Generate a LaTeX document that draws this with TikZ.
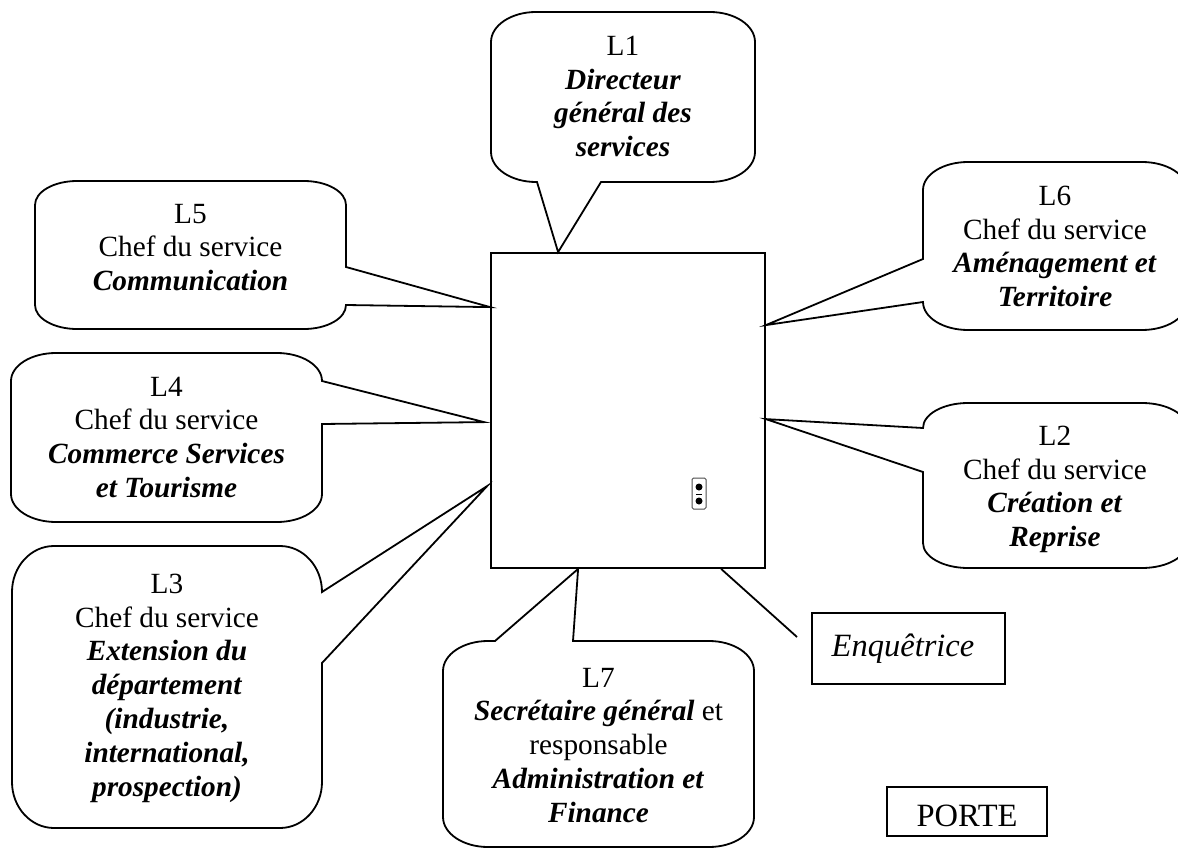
\documentclass[tikz,border=0pt]{standalone}
\usepackage{fontspec}
\setmainfont{Liberation Serif}
\newcommand{\bi}[1]{\textbf{\textit{#1}}}
\begin{document}
\begin{tikzpicture}[x=1pt,y=-1pt,line width=1.8pt,
	bulle/.style={draw,line width=1.8pt},
	texte/.style={align=center,anchor=north,inner sep=0pt,font=\fontsize{29.3}{33.8}\selectfont},
	boite/.style={draw,line width=1.8pt,inner sep=0pt,font=\fontsize{32.5}{37}\selectfont}]
	\useasboundingbox (0,0) rectangle (1178,848);
	\clip (0,0) rectangle (1178,848);
	% bureau
	\node[draw,inner sep=0pt,minimum width=274pt,minimum height=315pt] (bureau) at (628,410.5) {};
	\coordinate (t1) at ([xshift=68pt]bureau.north west);
	\coordinate (t5) at ([yshift=-55pt]bureau.north west);
	\coordinate (t4) at ([xshift=-6pt,yshift=-170pt]bureau.north west);
	\coordinate (t3) at ([xshift=-3pt,yshift=-234pt]bureau.north west);
	\coordinate (t6) at ([yshift=-73pt]bureau.north east);
	\coordinate (t2) at ([yshift=-167pt]bureau.north east);
	\coordinate (t7) at ([xshift=88pt]bureau.south west);
	% bulles
	\draw[bulle,x radius=45,y radius=30] (536,12) -- (710,12) arc[start angle=270,end angle=360] -- (755,152) arc[start angle=0,end angle=90] -- (601,182) -- (t1) -- (537,182) -- (536,182) arc[start angle=90,end angle=180] -- (491,42) arc[start angle=180,end angle=270] -- cycle;
	\draw[bulle,x radius=42,y radius=24] (77,181) -- (304,181) arc[start angle=270,end angle=360] -- (346,267) -- (t5) -- (346,305) arc[start angle=0,end angle=90] -- (77,329) arc[start angle=90,end angle=180] -- (35,205) arc[start angle=180,end angle=270] -- cycle;
	\draw[bulle,x radius=45,y radius=28] (56,353) -- (277,353) arc[start angle=270,end angle=360] -- (t4) -- (322,424) -- (322,494) arc[start angle=0,end angle=90] -- (56,522) arc[start angle=90,end angle=180] -- (11,381) arc[start angle=180,end angle=270] -- cycle;
	\draw[bulle,x radius=42,y radius=46] (54,546) -- (280,546) arc[start angle=270,end angle=360] -- (t3) -- (322,663) -- (322,782) arc[start angle=0,end angle=90] -- (54,828) arc[start angle=90,end angle=180] -- (12,592) arc[start angle=180,end angle=270] -- cycle;
	\draw[bulle,x radius=45,y radius=30] (488,641) -- (495,641) -- (t7) -- (573,641) -- (709,641) arc[start angle=270,end angle=360] -- (754,817) arc[start angle=0,end angle=90] -- (488,847) arc[start angle=90,end angle=180] -- (443,671) arc[start angle=180,end angle=270] -- cycle;
	\draw[bulle,x radius=45,y radius=28] (968,162) -- (1142,162) arc[start angle=270,end angle=360] -- (1187,302) arc[start angle=0,end angle=90] -- (968,330) arc[start angle=90,end angle=180] -- (t6) -- (923,259) -- (923,190) arc[start angle=180,end angle=270] -- cycle;
	\draw[bulle,x radius=45,y radius=25] (968,403) -- (1142,403) arc[start angle=270,end angle=360] -- (1187,543) arc[start angle=0,end angle=90] -- (968,568) arc[start angle=90,end angle=180] -- (923,472) -- (t2) -- (923,428) arc[start angle=180,end angle=270] -- cycle;
	% textes
	\node[texte] (l1) at (623,35) {L1\\\bi{Directeur}\\\bi{général des}\\\bi{services}};
	\node[texte] (l5) at (190.5,203) {L5\\Chef du service\\\bi{Communication}};
	\node[texte] (l4) at (166.5,376) {L4\\Chef du service\\\bi{Commerce Services}\\\bi{et Tourisme}};
	\node[texte] (l3) at (167,573) {L3\\Chef du service\\\bi{Extension du}\\\bi{département}\\\bi{(industrie,}\\\bi{international,}\\\bi{prospection)}};
	\node[texte] (l7) at (598.5,667) {L7\\\bi{Secrétaire général} et\\responsable\\\bi{Administration et}\\\bi{Finance}};
	\node[texte] (l6) at (1055,185) {L6\\Chef du service\\\bi{Aménagement et}\\\bi{Territoire}};
	\node[texte] (l2) at (1055,425) {L2\\Chef du service\\\bi{Création et}\\\bi{Reprise}};
	% enquetrice et porte
	\node[boite,minimum width=193pt,minimum height=71pt] (enq) at (908.5,648.5) {\textit{Enquêtrice}\kern11pt};
	\node[boite,minimum width=160pt,minimum height=49pt,text height=31pt] (porte) at (967,811.5) {PORTE};
	\coordinate (enq-pied) at ([xshift=231pt]bureau.south west);
	\coordinate (enq-bout) at (797,637);
	\draw (enq-pied) -- (enq-bout);
	% prise
	\draw[line width=1pt,gray!60!black,rounded corners=1.5pt] (692,478) rectangle (706,509);
	\fill (699,487) circle (3.5);
	\fill (699,501) circle (3.5);
	\draw[line width=1pt] (696,494) -- (702,494);
\end{tikzpicture}
\end{document}
